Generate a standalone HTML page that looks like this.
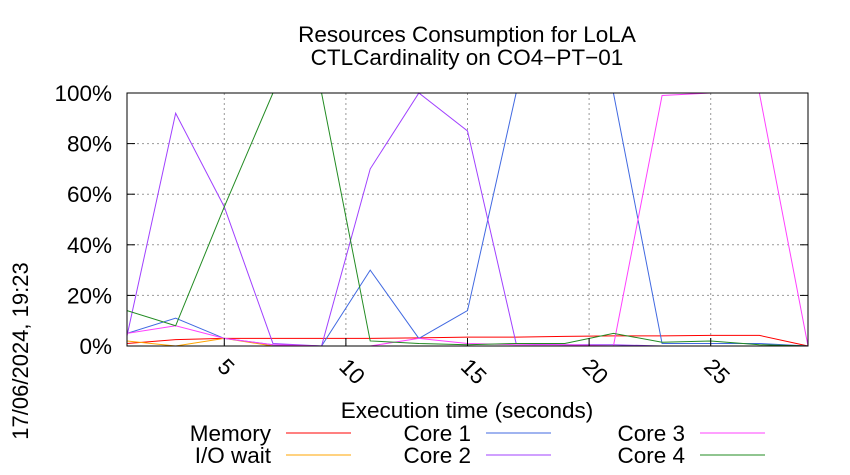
<!DOCTYPE html>
<html><head><meta charset="utf-8"><style>
html,body{margin:0;padding:0;background:#fff;}
svg{display:block;font-family:"Liberation Sans",sans-serif;}
</style></head><body>
<svg id="chart" width="850" height="475">
<text x="467" y="42" font-size="22.5" text-anchor="middle">Resources Consumption for LoLA</text>
<text x="467" y="65" font-size="22.5" text-anchor="middle">CTLCardinality on CO4−PT−01</text>
<text transform="translate(28,351) rotate(-90)" font-size="22" text-anchor="middle">17/06/2024, 19:23</text>
<text x="467" y="418" font-size="22.5" text-anchor="middle">Execution time (seconds)</text>
<g id="grid"></g><g id="series"></g><g id="axes"></g><g id="legend"></g>
</svg>
<script>
const xs=[1,3,5,7,9,11,13,15,17,19,21,23,25,27,29];
const memory=[1,2.5,3,3,3,3,3.2,3.5,3.5,3.8,4,4,4.2,4.2,0];
const ioWait=[2,0,3,0,0,0,0,0,0,0,0,0,0,0,0];
const core1=[5,11,3,0.5,0,30,3,14,100,100,100,1,1,1,0];
const core2=[4,92,55,1,0,70,100,85,1,0.5,0.5,0,0,0,0];
const core3=[5,8,3,0.5,0,0,3,1,0.5,0.5,0,99,100,100,0];
const core4=[14,8,55,100,100,2,1,0.5,1,1,5,1.5,2,0.5,0];
const xTicks=[5,10,15,20,25];
const yTicks=[0,20,40,60,80,100];
const L=127,R=808,T=93,B=346,X0=1,X1=29;
const sx=v=>L+(v-X0)/(X1-X0)*(R-L);
const sy=v=>B-v/100*(B-T);
const NS="http://www.w3.org/2000/svg";
function mk(tag,parent,attrs){const e=document.createElementNS(NS,tag);for(const k in attrs)e.setAttribute(k,attrs[k]);document.getElementById(parent).appendChild(e);return e;}
yTicks.forEach(t=>{
 const g=mk('line','grid',{x1:L,x2:R,y1:sy(t),y2:sy(t),stroke:'#999','stroke-dasharray':'2,3'});
 
 
 const tx=mk('text','axes',{x:L-15,y:sy(t)+8,'font-size':22.5,'text-anchor':'end'});
 tx.textContent=t+'%';
 
 
 mk('line','axes',{x1:L,x2:L+8,y1:sy(t),y2:sy(t),stroke:'#000'});
 mk('line','axes',{x1:R,x2:R-8,y1:sy(t),y2:sy(t),stroke:'#000'});
});
xTicks.forEach(t=>{
 const g=mk('line','grid',{x1:sx(t),x2:sx(t),y1:T,y2:B,stroke:'#999','stroke-dasharray':'2,3'});
 
 
 mk('line','axes',{x1:sx(t),x2:sx(t),y1:B,y2:B-8,stroke:'#000'});
 const tx=mk('text','axes',{transform:`translate(${sx(t)-8},${B+22}) rotate(45)`,'font-size':22.5,'text-anchor':'start'});
 tx.textContent=t;
 
 
});
const f=mk('rect','axes',{x:L,y:T,width:R-L,height:B-T,fill:'none',stroke:'#000'});


const series=[['Memory',memory,'#ff0000'],['I/O wait',ioWait,'#ffa500'],['Core 1',core1,'#4169e1'],['Core 2',core2,'#a040ff'],['Core 3',core3,'#ff40ff'],['Core 4',core4,'#228b22']];
const legPos=[[271,433],[271,455],[471,433],[471,455],[685,433],[685,455]];
series.forEach((s,i)=>{
 const p=mk('polyline','series',{points:xs.map((x,j)=>sx(x)+','+sy(s[1][j])).join(' '),fill:'none',stroke:s[2],'stroke-width':1});
 
 
 const [lx,ly]=legPos[i];
 const t=mk('text','legend',{x:lx,y:ly+8,'font-size':22.5,'text-anchor':'end'});
 t.textContent=s[0];
 
 
 const l=mk('line','legend',{x1:lx+15,x2:lx+80,y1:ly,y2:ly,stroke:s[2]});
 
 
});
</script>
</body></html>
